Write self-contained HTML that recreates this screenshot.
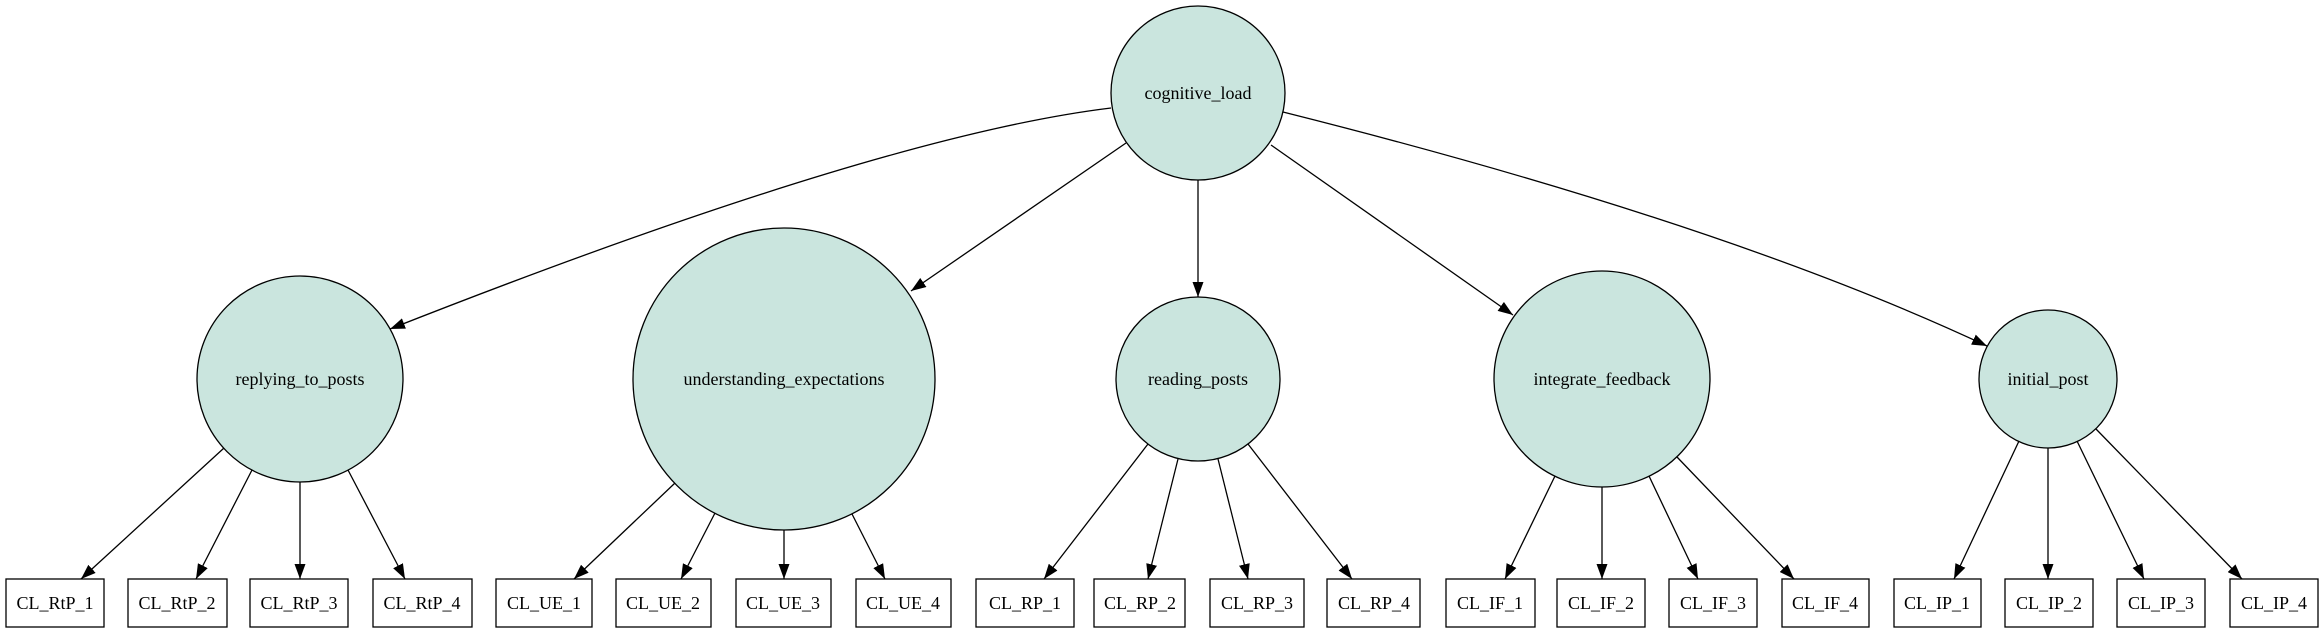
<!DOCTYPE html>
<html><head><meta charset="utf-8"><style>
html,body{margin:0;padding:0;background:#fff;}
svg{display:block;}
text{font-family:"Liberation Serif",serif;font-size:18px;fill:#000;}
</style></head><body>
<svg width="2322" height="633" viewBox="0 0 2322 633" xmlns="http://www.w3.org/2000/svg">
<defs>
<marker id="a" markerUnits="userSpaceOnUse" markerWidth="15" markerHeight="11" refX="15" refY="5.5" orient="auto">
<path d="M0,0 L15,5.5 L0,11 z" fill="#000"/>
</marker>
</defs>
<g fill="none" stroke="#000" stroke-width="1.3" marker-end="url(#a)">
<path d="M1111,108 Q880,136 390,329"/>
<path d="M1126,143 L911,291"/>
<path d="M1198,180 L1198,297"/>
<path d="M1271,145 L1513,315"/>
<path d="M1283,112 Q1725,223 1987,346"/>
<path d="M224,448 L81,579"/>
<path d="M252,470 L196,579"/>
<path d="M300,482 L300,579"/>
<path d="M348,470 L405,579"/>
<path d="M675,483 L574,579"/>
<path d="M715,513 L681,579"/>
<path d="M784,530 L784,579"/>
<path d="M852,514 L885,579"/>
<path d="M1148,444 L1044,579"/>
<path d="M1178,459 L1148,579"/>
<path d="M1218,459 L1248,579"/>
<path d="M1248,444 L1352,579"/>
<path d="M1555,476 L1505,579"/>
<path d="M1602,487 L1602,579"/>
<path d="M1649,476 L1698,579"/>
<path d="M1677,457 L1794,579"/>
<path d="M2019,441 L1954,579"/>
<path d="M2048,448 L2048,579"/>
<path d="M2077,441 L2144,579"/>
<path d="M2096,429 L2242,579"/>
</g>
<g fill="#cae5de" stroke="#000" stroke-width="1.3">
<circle cx="1198" cy="93" r="87"/>
<circle cx="300" cy="379" r="103"/>
<circle cx="784" cy="379" r="151"/>
<circle cx="1198" cy="379" r="82"/>
<circle cx="1602" cy="379" r="108"/>
<circle cx="2048" cy="379" r="69"/>
</g>
<g text-anchor="middle">
<text x="1198" y="99">cognitive_load</text>
<text x="300" y="385">replying_to_posts</text>
<text x="784" y="385">understanding_expectations</text>
<text x="1198" y="385">reading_posts</text>
<text x="1602" y="385">integrate_feedback</text>
<text x="2048" y="385">initial_post</text>
</g>
<g fill="#fff" stroke="#000" stroke-width="1.3">
<rect x="6" y="579" width="98" height="48"/>
<rect x="128" y="579" width="99" height="48"/>
<rect x="250" y="579" width="98" height="48"/>
<rect x="373" y="579" width="99" height="48"/>
<rect x="496" y="579" width="96" height="48"/>
<rect x="616" y="579" width="95" height="48"/>
<rect x="736" y="579" width="95" height="48"/>
<rect x="856" y="579" width="95" height="48"/>
<rect x="976" y="579" width="98" height="48"/>
<rect x="1094" y="579" width="91" height="48"/>
<rect x="1210" y="579" width="94" height="48"/>
<rect x="1327" y="579" width="93" height="48"/>
<rect x="1446" y="579" width="89" height="48"/>
<rect x="1557" y="579" width="88" height="48"/>
<rect x="1669" y="579" width="88" height="48"/>
<rect x="1782" y="579" width="87" height="48"/>
<rect x="1894" y="579" width="87" height="48"/>
<rect x="2005" y="579" width="88" height="48"/>
<rect x="2117" y="579" width="88" height="48"/>
<rect x="2230" y="579" width="88" height="48"/>
</g>
<g text-anchor="middle">
<text x="55" y="609">CL_RtP_1</text>
<text x="177" y="609">CL_RtP_2</text>
<text x="299" y="609">CL_RtP_3</text>
<text x="422" y="609">CL_RtP_4</text>
<text x="544" y="609">CL_UE_1</text>
<text x="663" y="609">CL_UE_2</text>
<text x="783" y="609">CL_UE_3</text>
<text x="903" y="609">CL_UE_4</text>
<text x="1025" y="609">CL_RP_1</text>
<text x="1140" y="609">CL_RP_2</text>
<text x="1257" y="609">CL_RP_3</text>
<text x="1374" y="609">CL_RP_4</text>
<text x="1490" y="609">CL_IF_1</text>
<text x="1601" y="609">CL_IF_2</text>
<text x="1713" y="609">CL_IF_3</text>
<text x="1825" y="609">CL_IF_4</text>
<text x="1937" y="609">CL_IP_1</text>
<text x="2049" y="609">CL_IP_2</text>
<text x="2161" y="609">CL_IP_3</text>
<text x="2274" y="609">CL_IP_4</text>
</g>
</svg>
</body></html>
